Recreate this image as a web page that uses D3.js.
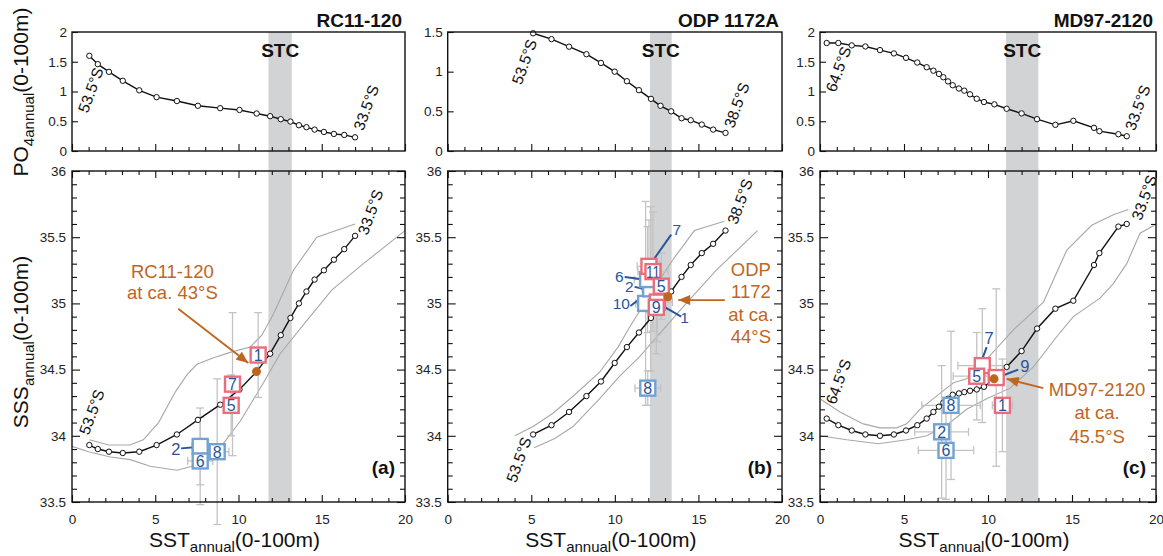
<!DOCTYPE html>
<html>
<head>
<meta charset="utf-8">
<script src="https://d3js.org/d3.v7.min.js"></script>
<style>
  body { margin: 0; background: #fff; }
  svg { font-family: "Liberation Sans", Arial, Helvetica, sans-serif; }
</style>
</head>
<body>
<svg width="1163" height="556"></svg>
<script>
// ---------- data ----------
// panel (a) RC11-120
const sstA = [1.04,1.55,2.22,3.05,4.04,5.08,6.3,7.56,8.9,10.06,11.09,11.9,12.54,13.12,13.63,14.08,14.57,15.13,15.73,16.35,17.0];
const po4A = [1.6,1.46,1.33,1.18,1.02,0.905,0.84,0.76,0.72,0.69,0.63,0.585,0.534,0.495,0.433,0.4,0.36,0.32,0.287,0.27,0.23];
const sssA = [33.93,33.90,33.88,33.87,33.88,33.93,34.01,34.12,34.235,34.35,34.485,34.62,34.76,34.89,35.0,35.09,35.18,35.25,35.33,35.41,35.51];
const envUpA = [[1.04,33.97],[2.2,33.93],[3.47,33.93],[4.28,33.97],[5.2,34.1],[6.2,34.33],[6.9,34.46],[7.5,34.54],[8.5,34.59],[9.5,34.63],[10.7,34.67],[11.4,34.76],[12.1,34.92],[13.3,35.25],[14.7,35.5],[17.0,35.6]];
const envLoA = [[0,33.92],[1.0,33.88],[2.3,33.84],[3.5,33.82],[4.7,33.77],[6.3,33.74],[7.5,33.78],[8.5,33.86],[9.2,33.96],[10.1,34.11],[11.5,34.4],[12.5,34.62],[14.1,34.87],[15.6,35.1],[17.5,35.3],[19.6,35.51],[20,35.55]];
const boxesA = [
  {id:"2", kind:"blue", sst:7.70, sss:33.92, eSst:0.5, eSss:0.29, inside:false},
  {id:"6", kind:"blue", sst:7.70, sss:33.81, eSst:0.75, eSss:0.33, inside:true},
  {id:"8", kind:"blue", sst:8.72, sss:33.88, eSst:0.7, eSss:0.55, inside:true},
  {id:"5", kind:"red", sst:9.56, sss:34.23, eSst:0.3, eSss:0.23, inside:true},
  {id:"7", kind:"red", sst:9.64, sss:34.39, eSst:0.3, eSss:0.54, inside:true},
  {id:"1", kind:"red", sst:11.18, sss:34.61, eSst:0.3, eSss:0.32, inside:true}
];
const leadersA = [{id:"2", sst:6.23, sss:33.90, from:[6.55,33.905], to:[7.55,33.915]}];
const coreA = [11.08, 34.485];
const coreLabelA = ["RC11-120", "at ca. 43°S"];

// panel (b) ODP 1172A
const sstB = [5.11,6.21,7.26,8.3,9.17,9.99,10.72,11.44,12.16,12.73,13.37,13.99,14.54,15.2,15.88,16.62];
const po4B = [1.484,1.41,1.315,1.22,1.11,1.0,0.88,0.767,0.657,0.57,0.50,0.413,0.388,0.333,0.27,0.228];
const sssB = [34.01,34.08,34.18,34.30,34.41,34.55,34.67,34.78,34.89,34.99,35.09,35.20,35.29,35.38,35.45,35.55];
const envUpB = [[4.02,34.0],[5.11,34.07],[6.3,34.17],[7.6,34.31],[9.09,34.48],[10.19,34.67],[10.88,34.82],[12.27,35.1],[13.47,35.33],[14.76,35.55],[16.55,35.62]];
const envLoB = [[5.17,33.91],[6.41,33.98],[7.5,34.07],[9.09,34.28],[10.29,34.45],[11.5,34.6],[12.67,34.77],[14.27,35.0],[16.06,35.25],[18.54,35.55]];
const boxesB = [
  {id:"10", kind:"blue", sst:11.84, sss:35.0, eSst:0.6, eSss:0.77, inside:false},
  {id:"2", kind:"blue", sst:12.14, sss:35.11, eSst:0.5, eSss:0.62, inside:false},
  {id:"6", kind:"blue", sst:11.96, sss:35.18, eSst:0.8, eSss:0.4, inside:false},
  {id:"8", kind:"blue", sst:11.97, sss:34.36, eSst:0.77, eSss:0.13, inside:true},
  {id:"7", kind:"red", sst:12.04, sss:35.28, eSst:0.7, eSss:0.35, inside:false},
  {id:"11", kind:"red", sst:12.28, sss:35.24, eSst:0.9, eSss:0.45, inside:true},
  {id:"5", kind:"red", sst:12.78, sss:35.13, eSst:0.5, eSss:0.25, inside:true},
  {id:"1", kind:"red", sst:12.54, sss:35.01, eSst:0.9, eSss:0.3, inside:false},
  {id:"9", kind:"red", sst:12.48, sss:34.97, eSst:0.6, eSss:0.35, inside:true}
];
const leadersB = [
  {id:"7", sst:13.70, sss:35.56, from:[13.37,35.52], to:[12.37,35.34]},
  {id:"6", sst:10.27, sss:35.20, from:[10.59,35.20], to:[11.74,35.18]},
  {id:"2", sst:10.87, sss:35.127, from:[11.18,35.125], to:[11.68,35.11]},
  {id:"10", sst:10.39, sss:34.998, from:[10.93,34.98], to:[11.34,35.02]},
  {id:"1", sst:14.17, sss:34.89, from:[13.01,34.97], to:[13.97,34.90]}
];
const coreB = [13.17, 35.05];
const coreLabelB = ["ODP", "1172", "at ca.", "44°S"];

// panel (c) MD97-2120
const sstC = [0.4,1.09,1.89,2.7,3.57,4.4,5.12,5.79,6.35,6.75,7.08,7.34,7.62,7.9,8.27,8.59,8.93,9.33,9.76,10.38,11.11,12.0,12.92,14.01,15.08,16.31,16.63,17.76,18.26];
const po4C = [1.815,1.815,1.775,1.757,1.696,1.64,1.566,1.487,1.408,1.35,1.295,1.24,1.17,1.105,1.05,1.014,0.953,0.878,0.823,0.784,0.71,0.632,0.535,0.44,0.507,0.389,0.333,0.282,0.248];
const sssC = [34.13,34.08,34.04,34.01,34.0,34.01,34.04,34.08,34.13,34.18,34.22,34.25,34.28,34.31,34.32,34.33,34.34,34.35,34.37,34.43,34.52,34.64,34.81,34.96,35.02,35.29,35.38,35.58,35.60];
const envUpC = [[0,34.28],[1.19,34.18],[2.58,34.09],[3.57,34.06],[4.56,34.06],[5.16,34.09],[5.95,34.2],[7.14,34.32],[7.94,34.4],[8.73,34.43],[9.72,34.55],[11.51,34.8],[13.3,35.01],[14.68,35.4],[16.17,35.59],[17.46,35.67],[18.35,35.71]];
const envLoC = [[0,34.0],[1.59,33.97],[3.47,33.94],[5.16,33.97],[6.35,34.0],[7.54,34.08],[8.73,34.2],[9.92,34.28],[11.31,34.36],[12.7,34.52],[14.29,34.78],[15.08,34.9],[16.67,35.04],[17.46,35.15],[18.26,35.3],[19.05,35.53],[19.9,35.59]];
const boxesC = [
  {id:"6", kind:"blue", sst:7.5, sss:33.89, eSst:1.65, eSss:0.37, inside:true},
  {id:"2", kind:"blue", sst:7.24, sss:34.03, eSst:1.6, eSss:0.5, inside:true},
  {id:"8", kind:"blue", sst:7.8, sss:34.23, eSst:1.74, eSss:0.56, inside:true},
  {id:"1", kind:"red", sst:10.86, sss:34.23, eSst:0.6, eSss:0.35, inside:true},
  {id:"7", kind:"red", sst:9.66, sss:34.53, eSst:1.45, eSss:0.43, inside:false},
  {id:"5", kind:"red", sst:9.33, sss:34.45, eSst:1.4, eSss:0.33, inside:true},
  {id:"9", kind:"red", sst:10.49, sss:34.44, eSst:0.2, eSss:0.67, inside:false}
];
const leadersC = [
  {id:"7", sst:10.07, sss:34.74, from:[9.92,34.67], to:[9.63,34.57]},
  {id:"9", sst:12.2, sss:34.53, from:[11.8,34.50], to:[10.76,34.45]}
];
const coreC = [10.36, 34.43];
const coreLabelC = ["MD97-2120", "at ca.", "45.5°S"];

const xTicks = [0, 5, 10, 15, 20];
const sssTicks = [33.5, 34, 34.5, 35, 35.5, 36];

// ---------- layout ----------
const svg = d3.select("svg");
const topY0 = 32, topY1 = 151, botY0 = 171, botY1 = 502;
const orange = "#bf661e", boxRed = "#ea6d7d", boxBlue = "#72a2d4", numBlue = "#2b5597";

svg.append("defs").append("marker")
  .attr("id", "arr").attr("markerUnits", "userSpaceOnUse")
  .attr("viewBox", "0 0 12 10").attr("refX", 12).attr("refY", 5)
  .attr("markerWidth", 13).attr("markerHeight", 10).attr("orient", "auto")
  .append("path").attr("d", "M0,0 L12,5 L0,10 Z").attr("fill", orange);

const panels = [
  {x0:72, x1:405, po4Max:2, po4Ticks:[0,0.5,1,1.5,2], title:"RC11-120", letter:"(a)",
   sst:sstA, po4:po4A, sss:sssA, envUp:envUpA, envLo:envLoA, stc:[11.8,13.2],
   boxes:boxesA, leaders:leadersA, leaderSize:16.5, core:coreA, coreLabel:coreLabelA,
   labelAt:[6.03,35.19], labelGap:21, arrow:[[6.38,34.96],[10.59,34.55]],
   latTop:[["53.5°S",1.12,1.025],["33.5°S",17.66,0.73]],
   latBot:[["53.5°S",1.18,34.18],["33.5°S",17.92,35.69]]},
  {x0:447.7, x1:782, po4Max:1.5, po4Ticks:[0,0.5,1,1.5], title:"ODP 1172A", letter:"(b)",
   sst:sstB, po4:po4B, sss:sssB, envUp:envUpB, envLo:envLoB, stc:[12.1,13.4],
   boxes:boxesB, leaders:leadersB, leaderSize:15.5, core:coreB, coreLabel:coreLabelB,
   labelAt:[18.14,35.21], labelGap:22.5, arrow:[[16.58,35.025],[13.79,35.025]],
   latTop:[["53.5°S",4.58,1.125],["38.5°S",17.28,0.578]],
   latBot:[["53.5°S",4.25,33.82],["38.5°S",17.48,35.77]]},
  {x0:820, x1:1156, po4Max:2, po4Ticks:[0,0.5,1,1.5,2], title:"MD97-2120", letter:"(c)",
   sst:sstC, po4:po4C, sss:sssC, envUp:envUpC, envLo:envLoC, stc:[11.07,13.0],
   boxes:boxesC, leaders:leadersC, leaderSize:16.5, core:coreC, coreLabel:coreLabelC,
   labelAt:[16.49,34.30], labelGap:23.3, arrow:[[13.29,34.36],[11.11,34.43]],
   latTop:[["64.5°S",1.09,1.377],["33.5°S",18.9,0.73]],
   latBot:[["64.5°S",1.09,34.41],["33.5°S",19.29,35.80]]}
];

function drawPanel(p) {
  const x = d3.scaleLinear().domain([0, 20]).range([p.x0, p.x1]);
  const yT = d3.scaleLinear().domain([0, p.po4Max]).range([topY1, topY0]);
  const yB = d3.scaleLinear().domain([33.5, 36]).range([botY1, botY0]);
  const g = svg.append("g");

  // STC band through both panels
  g.append("rect")
    .attr("x", x(p.stc[0])).attr("width", x(p.stc[1]) - x(p.stc[0]))
    .attr("y", topY0).attr("height", botY1 - topY0).attr("fill", "#d2d3d5");

  // ---- top panel: PO4 ----
  const lineT = d3.line().x((d, i) => x(p.sst[i])).y(d => yT(d));
  g.append("path").attr("d", lineT(p.po4)).attr("fill", "none")
    .attr("stroke", "#111").attr("stroke-width", 1.4);
  g.selectAll(".ptT").data(p.po4).enter().append("circle")
    .attr("cx", (d, i) => x(p.sst[i])).attr("cy", d => yT(d)).attr("r", 2.7)
    .attr("fill", "#fff").attr("stroke", "#111").attr("stroke-width", 1);

  // ---- bottom panel: SSS ----
  const env = d3.line().x(d => x(d[0])).y(d => yB(d[1]));
  [p.envUp, p.envLo].forEach(e => g.append("path").attr("d", env(e))
    .attr("fill", "none").attr("stroke", "#a8a8a8").attr("stroke-width", 1.1));

  // error bars
  const eg = g.append("g").attr("stroke", "#c3c3c3").attr("stroke-width", 1.3);
  p.boxes.forEach(b => {
    const cx = x(b.sst), cy = yB(b.sss);
    const yt = yB(b.sss + b.eSss), yb = yB(b.sss - b.eSss);
    const xl = x(b.sst - b.eSst), xr = x(b.sst + b.eSst);
    eg.append("line").attr("x1", cx).attr("x2", cx).attr("y1", yt).attr("y2", yb);
    eg.append("line").attr("x1", cx - 4).attr("x2", cx + 4).attr("y1", yt).attr("y2", yt);
    eg.append("line").attr("x1", cx - 4).attr("x2", cx + 4).attr("y1", yb).attr("y2", yb);
    eg.append("line").attr("x1", xl).attr("x2", xr).attr("y1", cy).attr("y2", cy);
    eg.append("line").attr("x1", xl).attr("x2", xl).attr("y1", cy - 4).attr("y2", cy + 4);
    eg.append("line").attr("x1", xr).attr("x2", xr).attr("y1", cy - 4).attr("y2", cy + 4);
  });

  const lineB = d3.line().x((d, i) => x(p.sst[i])).y(d => yB(d));
  g.append("path").attr("d", lineB(p.sss)).attr("fill", "none")
    .attr("stroke", "#111").attr("stroke-width", 1.4);
  g.selectAll(".ptB").data(p.sss).enter().append("circle")
    .attr("cx", (d, i) => x(p.sst[i])).attr("cy", d => yB(d)).attr("r", 2.7)
    .attr("fill", "#fff").attr("stroke", "#111").attr("stroke-width", 1);

  // leader lines
  p.leaders.forEach(l => {
    g.append("line").attr("x1", x(l.from[0])).attr("y1", yB(l.from[1]))
      .attr("x2", x(l.to[0])).attr("y2", yB(l.to[1]))
      .attr("stroke", numBlue).attr("stroke-width", 2);
    g.append("text").attr("x", x(l.sst)).attr("y", yB(l.sss))
      .attr("text-anchor", "middle").attr("dominant-baseline", "central")
      .attr("font-size", p.leaderSize).attr("fill", numBlue).text(l.id);
  });

  // sample boxes
  p.boxes.forEach(b => {
    const cx = x(b.sst), cy = yB(b.sss);
    g.append("rect").attr("x", cx - 7.5).attr("y", cy - 7.5)
      .attr("width", 15).attr("height", 15).attr("fill", "#fff")
      .attr("stroke", b.kind === "red" ? boxRed : boxBlue).attr("stroke-width", 2.4);
    if (b.inside) {
      const t = g.append("text").attr("x", cx).attr("y", cy + 0.5)
        .attr("text-anchor", "middle").attr("dominant-baseline", "central")
        .attr("font-size", 16).attr("fill", numBlue).text(b.id);
      if (b.id.length > 1) t.attr("textLength", 14).attr("lengthAdjust", "spacingAndGlyphs");
    }
  });

  // core site dot, arrow and label
  g.append("circle").attr("cx", x(p.core[0])).attr("cy", yB(p.core[1]))
    .attr("r", 4.5).attr("fill", orange);
  g.append("line")
    .attr("x1", x(p.arrow[0][0])).attr("y1", yB(p.arrow[0][1]))
    .attr("x2", x(p.arrow[1][0])).attr("y2", yB(p.arrow[1][1]))
    .attr("stroke", orange).attr("stroke-width", 1.8).attr("marker-end", "url(#arr)");
  p.coreLabel.forEach((s, i) => g.append("text")
    .attr("x", x(p.labelAt[0])).attr("y", yB(p.labelAt[1]) + i * p.labelGap)
    .attr("text-anchor", "middle").attr("font-size", 18.5).attr("fill", orange).text(s));

  // latitude labels
  const lat = (arr, y) => arr.forEach(([s, sx, sy]) => g.append("text")
    .attr("transform", `translate(${x(sx)},${y(sy)}) rotate(-70)`)
    .attr("text-anchor", "middle").attr("dominant-baseline", "central")
    .attr("font-size", 15.5).attr("fill", "#111").text(s));
  lat(p.latTop, yT);
  lat(p.latBot, yB);

  // ---- axes ----
  const ax = g.append("g");
  const isHalf = d => Math.abs(d * 2 - Math.round(d * 2)) < 1e-6;
  const sssMinor = d3.range(335, 361).map(v => v / 10);
  // top panel left: ticks and labels
  ax.append("g").attr("transform", `translate(${p.x0},0)`)
    .call(d3.axisLeft(yT).tickValues(p.po4Ticks).tickSize(-6).tickPadding(5).tickFormat(d => d));
  // top panel bottom ticks
  const aTB = ax.append("g").attr("transform", `translate(0,${topY1})`)
    .call(d3.axisBottom(x).tickValues(d3.range(0, 21)).tickSize(-4).tickFormat(""));
  aTB.selectAll(".tick line").filter(d => d % 5 === 0).attr("y2", -7);
  // bottom panel left / right ticks
  const aBL = ax.append("g").attr("transform", `translate(${p.x0},0)`)
    .call(d3.axisLeft(yB).tickValues(sssMinor).tickSize(-5).tickFormat(""));
  aBL.selectAll(".tick line").filter(isHalf).attr("x2", 8);
  const aBR = ax.append("g").attr("transform", `translate(${p.x1},0)`)
    .call(d3.axisRight(yB).tickValues(sssMinor).tickSize(-5).tickFormat(""));
  aBR.selectAll(".tick line").filter(isHalf).attr("x2", -8);
  // bottom panel top / bottom ticks
  const aBT = ax.append("g").attr("transform", `translate(0,${botY0})`)
    .call(d3.axisTop(x).tickValues(d3.range(0, 21)).tickSize(-4).tickFormat(""));
  aBT.selectAll(".tick line").filter(d => d % 5 === 0).attr("y2", 7);
  const aBB = ax.append("g").attr("transform", `translate(0,${botY1})`)
    .call(d3.axisBottom(x).tickValues(d3.range(0, 21)).tickSize(-4).tickFormat(""));
  aBB.selectAll(".tick line").filter(d => d % 5 === 0).attr("y2", -7);
  ax.selectAll("text").filter(function () { return this.textContent === ""; }).remove();
  // tick labels on major values only
  ax.append("g").attr("transform", `translate(${p.x0},0)`)
    .call(d3.axisLeft(yB).tickValues(sssTicks).tickSize(0).tickPadding(6).tickFormat(d => d))
    .selectAll(".tick line").remove();
  ax.append("g").attr("transform", `translate(0,${botY1})`)
    .call(d3.axisBottom(x).tickValues(xTicks).tickSize(0).tickPadding(12).tickFormat(d => d))
    .selectAll(".tick line").remove();

  ax.selectAll(".domain").remove();
  ax.selectAll(".tick line").attr("stroke", "#111").attr("stroke-width", 1.1);
  ax.selectAll("text").attr("font-family", null).attr("font-size", 13.5).attr("fill", "#222");

  // frames
  [[topY0, topY1], [botY0, botY1]].forEach(([a, b]) => g.append("rect")
    .attr("x", p.x0).attr("y", a).attr("width", p.x1 - p.x0).attr("height", b - a)
    .attr("fill", "none").attr("stroke", "#111").attr("stroke-width", 1.4));

  // titles
  g.append("text").attr("x", p.x1 - 3).attr("y", 27).attr("text-anchor", "end")
    .attr("font-size", 19).attr("font-weight", "bold").attr("fill", "#111").text(p.title);
  g.append("text").attr("x", x((p.stc[0] + p.stc[1]) / 2)).attr("y", 57).attr("text-anchor", "middle")
    .attr("font-size", 19).attr("font-weight", "bold").attr("fill", "#111").text("STC");
  g.append("text").attr("x", p.x1 - 10).attr("y", 474).attr("text-anchor", "end")
    .attr("font-size", 19).attr("font-weight", "bold").attr("fill", "#111").text(p.letter);

  // x-axis title
  const xt = g.append("text").attr("x", (p.x0 + p.x1) / 2 - 4).attr("y", 547)
    .attr("text-anchor", "middle").attr("font-size", 21).attr("fill", "#111");
  xt.append("tspan").text("SST");
  xt.append("tspan").attr("font-size", 15).attr("dy", 5).text("annual");
  xt.append("tspan").attr("dy", -5).text("(0-100m)");
}

panels.forEach(drawPanel);

// y-axis titles
function yTitle(cy, main, sub) {
  const t = svg.append("text").attr("transform", `translate(28,${cy}) rotate(-90)`)
    .attr("text-anchor", "middle").attr("font-size", 21).attr("fill", "#111");
  t.append("tspan").text(main);
  t.append("tspan").attr("font-size", 15).attr("dy", 6).text(sub);
  t.append("tspan").attr("dy", -6).text("(0-100m)");
}
yTitle(92, "PO", "4annual");
yTitle(342, "SSS", "annual");
</script>
</body>
</html>
